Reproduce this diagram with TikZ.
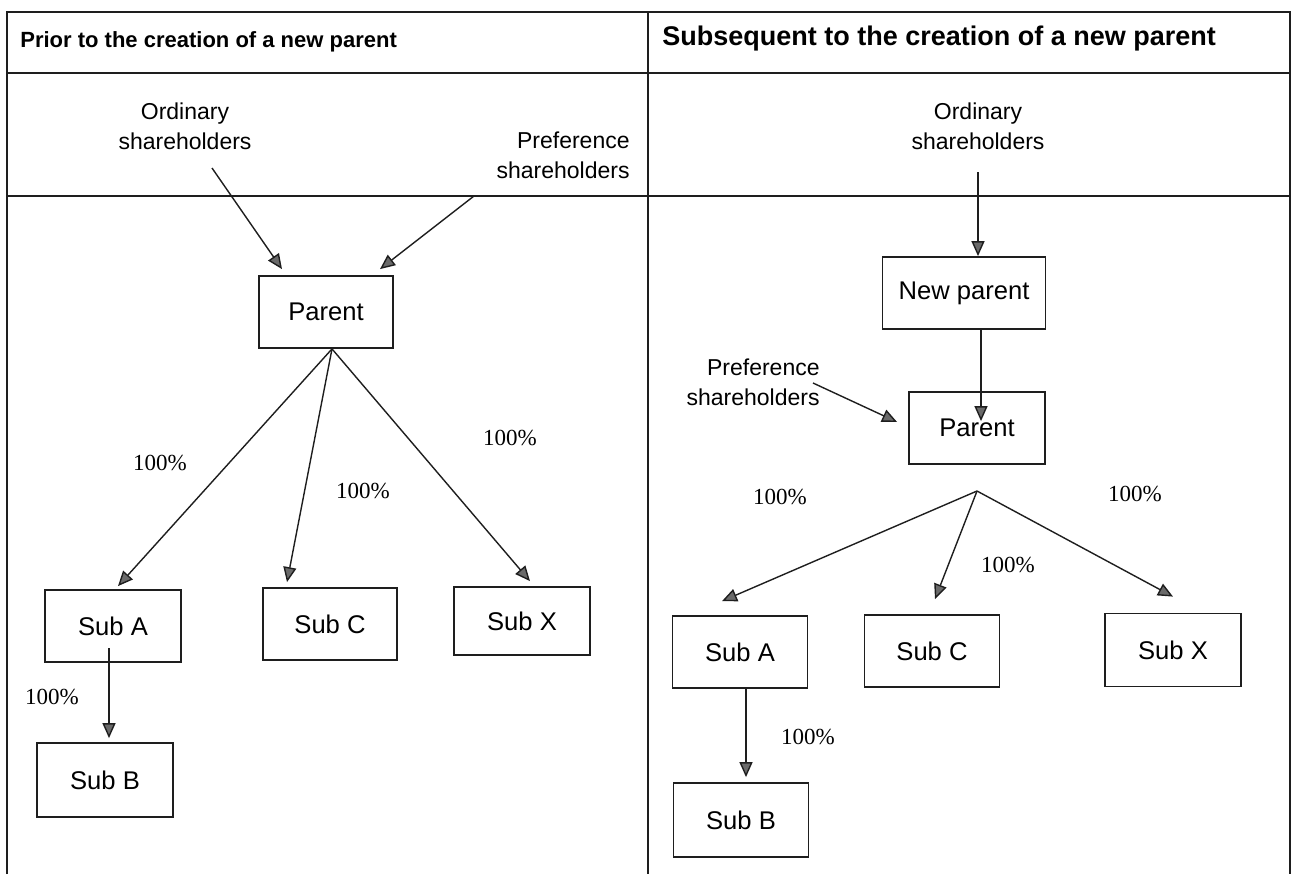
\documentclass[tikz,border=0pt]{standalone}
\usepackage{fontspec}
\setmainfont{Liberation Sans}
\newfontfamily\pctfont{Liberation Serif}
\usetikzlibrary{arrows.meta,positioning}
\definecolor{ink}{HTML}{1E1E1E}
\definecolor{tipgray}{HTML}{6A6A6A}
\tikzset{
  >={Triangle[length=7.5pt,width=6.5pt,fill=tipgray]},
  rule/.style={draw=ink,line width=0.7pt},
  flow/.style={->,draw=ink,line width=0.7pt},
  box/.style={draw=ink,line width=0.9pt,minimum width=68pt,minimum height=36pt,
    inner sep=0pt,font=\fontsize{12.8}{15}\selectfont},
  holders/.style={align=center,inner sep=0pt,font=\fontsize{11.5}{15}\selectfont},
  pct/.style={inner sep=0pt,font=\pctfont\fontsize{11.5}{14}\selectfont},
  head/.style={anchor=west,inner sep=0pt,font=\bfseries\fontsize{11}{13}\selectfont}
}
\begin{document}
\begin{tikzpicture}[x=0.5pt,y=-0.5pt]
  \useasboundingbox (0,0) rectangle (1296,874);
  \draw[rule] (7,874)--(7,12)--(1290,12)--(1290,874);
  \draw[rule] (648,12)--(648,874);
  \draw[rule] (7,73)--(1290,73);
  \draw[rule] (7,196)--(1290,196);
  \node[head] (headL) at (20,42) {Prior to the creation of a new parent};
  \node[head,font=\bfseries\fontsize{13.5}{15}\selectfont] (headR) at (662,39) {Subsequent to the creation of a new parent};

  % before
  \node[holders] (ordL) at (185,126) {Ordinary\\shareholders};
  \node[holders,anchor=east,align=right] (prefL) at (630,155) {Preference\\shareholders};
  \node[box,minimum width=67pt] (parL) at (326,312) {Parent};
  \node[box] (subAL) at (113,626) {Sub A};
  \node[box,minimum width=67pt] (subCL) at (330,624) {Sub C};
  \node[box,minimum height=34pt] (subXL) at (522,621) {Sub X};
  \node[box,minimum height=37pt] (subBL) at (105,780) {Sub B};
  \coordinate (ordLout) at (212,168);
  \coordinate (prefLout) at (474,196);
  \draw[flow] (ordLout)--([xshift=-22pt,yshift=3pt]parL.north);
  \draw[flow] (prefLout)--([xshift=27pt,yshift=3pt]parL.north);
  \draw[flow] ([xshift=3pt]parL.south)--([xshift=2.5pt,yshift=1.5pt]subAL.north);
  \draw[flow] ([xshift=3pt]parL.south)--([xshift=-21.5pt,yshift=2.5pt]subCL.north);
  \draw[flow] ([xshift=3pt]parL.south)--([xshift=4pt,yshift=2.5pt]subXL.north);
  \draw[flow] ([xshift=-2pt,yshift=-11pt]subAL.center)--([xshift=2pt,yshift=2pt]subBL.north);
  \node[pct] (pAL) at (160,463) {100\%};
  \node[pct] (pCL) at (363,491) {100\%};
  \node[pct] (pXL) at (510,438) {100\%};
  \node[pct] (pBL) at (52,697) {100\%};

  % after
  \node[holders] (ordR) at (978,126) {Ordinary\\shareholders};
  \node[box,minimum width=81.5pt] (newR) at (964,293) {New parent};
  \node[holders,anchor=east,align=right] (prefR) at (820,382) {Preference\\shareholders};
  \node[box] (parR) at (977,428) {Parent};
  \node[box,minimum width=67.5pt] (subAR) at (740,652) {Sub A};
  \node[box,minimum width=67.5pt] (subCR) at (932,651) {Sub C};
  \node[box,minimum height=36.5pt] (subXR) at (1173,650) {Sub X};
  \node[box,minimum width=67.5pt,minimum height=37pt] (subBR) at (741,820) {Sub B};
  \coordinate (ordRout) at (978,172);
  \coordinate (prefRout) at (813,383);
  \coordinate (forkR) at (977,491);
  \draw[flow] (ordRout)--([xshift=7pt]newR.north);
  \draw[flow] ([xshift=8.5pt]newR.south)--([xshift=2pt,yshift=-15pt]parR.north);
  \draw[flow] (prefRout)--([xshift=-5.5pt,yshift=3pt]parR.west);
  \draw[flow] (forkR)--([xshift=-9pt,yshift=7pt]subAR.north);
  \draw[flow] (forkR)--([xshift=1.5pt,yshift=7.5pt]subCR.north);
  \draw[flow] (forkR)--([yshift=8pt]subXR.north);
  \draw[flow] ([xshift=3pt]subAR.south)--([xshift=2.5pt,yshift=2.5pt]subBR.north);
  \node[pct] (pAR) at (780,497) {100\%};
  \node[pct] (pCR) at (1008,565) {100\%};
  \node[pct] (pXR) at (1135,494) {100\%};
  \node[pct] (pBR) at (808,737) {100\%};
\end{tikzpicture}
\end{document}
